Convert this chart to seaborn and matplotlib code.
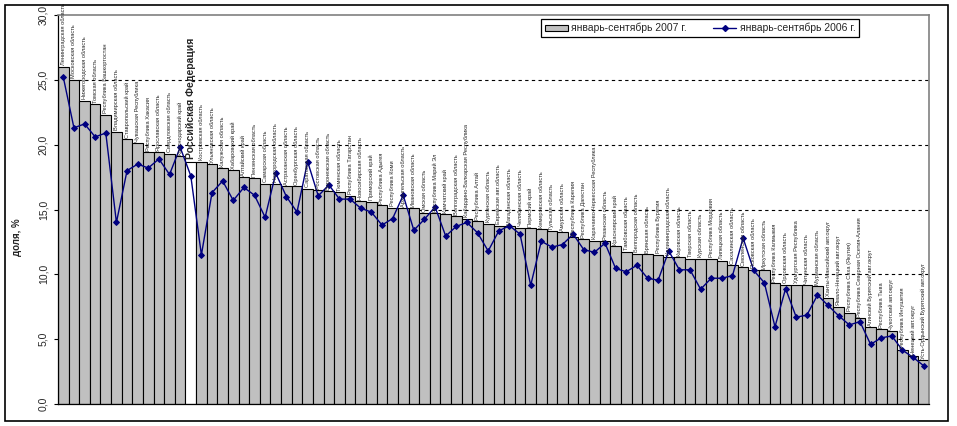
import numpy as np
import pandas as pd
import matplotlib
matplotlib.use("Agg")
import matplotlib.pyplot as plt
import seaborn as sns
from matplotlib.patches import Patch, Rectangle
from matplotlib.lines import Line2D
from matplotlib.ticker import FuncFormatter

regions = [
    "Ленинградская область", "Московская область", "Нижегородская область", "Томская область",
    "Республика Башкортостан", "Владимирская область", "Ставропольский край", "Чувашская Республика",
    "Республика Хакасия", "Ярославская область", "Свердловская область", "Краснодарский край",
    "Российская Федерация", "Костромская область", "Ульяновская область", "Калужская область",
    "Хабаровский край", "Алтайский край", "Пензенская область", "Самарская область",
    "Новгородская область", "Астраханская область", "Оренбургская область", "Саратовская область",
    "Ростовская область", "Воронежская область", "Тюменская область", "Республика Татарстан",
    "Новосибирская область", "Приморский край", "Республика Адыгея", "Республика Коми",
    "Архангельская область", "Ивановская область", "Омская область", "Республика Марий Эл",
    "Камчатский край", "Волгоградская область", "Кабардино-Балкарская Республика", "Республика Алтай",
    "Курганская область", "Еврейская авт.область", "Магаданская область", "Челябинская область",
    "Пермский край", "Кемеровская область", "Тульская область", "Амурская область",
    "Республика Карелия", "Республика Дагестан", "Карачаево-Черкесская Республика", "Рязанская область",
    "Красноярский край", "Тамбовская область", "Белгородская область", "Брянская область",
    "Республика Бурятия", "Калининградская область", "Кировская область", "Тверская область",
    "Курская область", "Республика Мордовия", "Липецкая область", "Сахалинская область",
    "Смоленская область", "Псковская область", "Иркутская область", "Республика Калмыкия",
    "Орловская область", "Удмуртская Республика", "Читинская область", "Мурманская область",
    "Ханты-Мансийский авт.округ", "Ямало-Ненецкий авт.округ", "Республика Саха (Якутия)",
    "Республика Северная Осетия-Алания", "Агинский Бурятский авт.округ", "Республика Тыва",
    "Чукотский авт.округ", "Республика Ингушетия", "Ненецкий авт.округ",
    "Усть-Ордынский Бурятский авт.округ",
]

v2007 = [
    26.0, 25.0, 23.4, 23.1, 22.3, 21.0, 20.4, 20.1, 19.4, 19.4, 19.3, 19.1,
    18.7, 18.7, 18.5, 18.2, 18.05, 17.5, 17.4, 17.0, 17.0, 16.8, 16.8, 16.6,
    16.5, 16.4, 16.35, 16.05, 15.65, 15.6, 15.35, 15.15, 15.1, 15.1, 14.7, 14.7,
    14.65, 14.5, 14.3, 14.1, 13.9, 13.75, 13.7, 13.6, 13.55, 13.5, 13.35, 13.25,
    12.9, 12.7, 12.6, 12.55, 12.15, 11.75, 11.6, 11.55, 11.5, 11.35, 11.3, 11.2,
    11.2, 11.2, 11.05, 10.7, 10.55, 10.35, 10.3, 9.3, 9.2, 9.2, 9.15, 9.1,
    8.2, 7.5, 7.05, 6.6, 5.9, 5.75, 5.6, 4.2, 3.7, 3.4,
]

v2006 = [
    25.2, 21.3, 21.6, 20.6, 20.9, 14.0, 18.0, 18.5, 18.2, 18.9, 17.7, 19.8,
    17.6, 11.5, 16.3, 17.2, 15.7, 16.7, 16.1, 14.4, 17.8, 16.0, 14.8, 18.7,
    16.05, 16.9, 15.8, 15.8, 15.1, 14.8, 13.8, 14.3, 16.1, 13.4, 14.25, 15.2,
    12.95, 13.7, 14.0, 13.2, 11.8, 13.35, 13.75, 13.1, 9.15, 12.55, 12.1, 12.3,
    13.1, 11.9, 11.7, 12.4, 10.45, 10.2, 10.7, 9.7, 9.55, 11.8, 10.35, 10.35,
    8.85, 9.7, 9.7, 9.9, 12.8, 10.3, 9.35, 5.95, 8.9, 6.7, 6.85, 8.4,
    7.6, 6.8, 6.1, 6.35, 4.6, 5.1, 5.25, 4.15, 3.6, 2.95,
]

total_label = "Российская Федерация"
series_2007 = "январь-сентябрь 2007 г."
series_2006 = "январь-сентябрь 2006 г."
y_ticks = [0, 5, 10, 15, 20, 25, 30]

df = pd.DataFrame({"region": regions, "v2007": v2007, "v2006": v2006})

sns.set_theme(style="white")
plt.rcParams["font.family"] = ["Liberation Sans", "DejaVu Sans"]

W, H = 957, 426
fig = plt.figure(figsize=(W / 100, H / 100), dpi=100)
fig.patch.set_facecolor("white")
ax = fig.add_axes([58 / W, (H - 404) / H, 871 / W, 389 / H])

# dashed grid lines behind the bars
for v in y_ticks[1:-1]:
    ax.axhline(v, color="black", lw=0.8, ls=(0, (3, 3)), zorder=0.5)

sns.barplot(data=df, x="region", y="v2007", color="#c0c0c0", saturation=1,
            width=1.0, edgecolor="black", linewidth=0.8, ax=ax, zorder=2)
for name, p in zip(regions, ax.patches):
    if name == total_label:
        p.set_facecolor("white")

sns.pointplot(data=df, x="region", y="v2006", color="#000080", markers="D",
              markersize=3, linewidth=1.0, errorbar=None, ax=ax, zorder=3)

ax.set_xlim(-0.5, len(regions) - 0.5)
ax.set_ylim(0, 30)
ax.set_xticks([])
ax.set_xlabel("")

ax.set_yticks(y_ticks)
ax.yaxis.set_major_formatter(FuncFormatter(lambda v, _: f"{v:.1f}".replace(".", ",")))
ax.tick_params(axis="y", left=True, direction="out", length=3, width=0.8,
               color="black", labelsize=7.5, pad=4)
for lbl in ax.get_yticklabels():
    lbl.set_rotation(90)
    lbl.set_va("center")

ax.set_ylabel("доля, %", fontsize=7, fontweight="bold")
ax.yaxis.set_label_coords(-0.041, 0.43)

for s in ["left", "bottom"]:
    ax.spines[s].set_color("black")
    ax.spines[s].set_linewidth(0.9)
for s in ["top", "right"]:
    ax.spines[s].set_color("#808080")
    ax.spines[s].set_linewidth(1.2)

# region labels above bars
for i, (name, v) in enumerate(zip(regions, v2007)):
    if name == total_label:
        ax.annotate(name, (i, v), xytext=(0, 2), textcoords="offset points",
                    rotation=90, ha="center", va="bottom", fontsize=7.5,
                    fontweight="bold", annotation_clip=False, zorder=5)
    else:
        ax.annotate(name, (i, v), xytext=(0, 1.0), textcoords="offset points",
                    rotation=90, ha="center", va="bottom", fontsize=4.1,
                    family=["Liberation Sans Narrow", "Liberation Sans", "DejaVu Sans"],
                    annotation_clip=False, zorder=5)

handles = [
    Patch(facecolor="#c0c0c0", edgecolor="black", linewidth=0.8),
    Line2D([], [], color="#000080", marker="D", markersize=3, lw=1),
]
leg = ax.legend(handles, [series_2007, series_2006], loc="center",
                bbox_to_anchor=(0.737, 0.966), ncol=2, fontsize=7.5,
                frameon=True, fancybox=False, edgecolor="black", framealpha=1,
                borderpad=0.35, handlelength=2.2, handleheight=0.45,
                columnspacing=2.6, handletextpad=0.3)
leg.get_frame().set_linewidth(0.9)
leg.set_zorder(10)

fig.patches.append(Rectangle((5 / W, 5.3 / H), 943 / W, 416 / H,
                             transform=fig.transFigure, fill=False,
                             edgecolor="black", lw=1.2))

fig.savefig("out.png", dpi=100)
